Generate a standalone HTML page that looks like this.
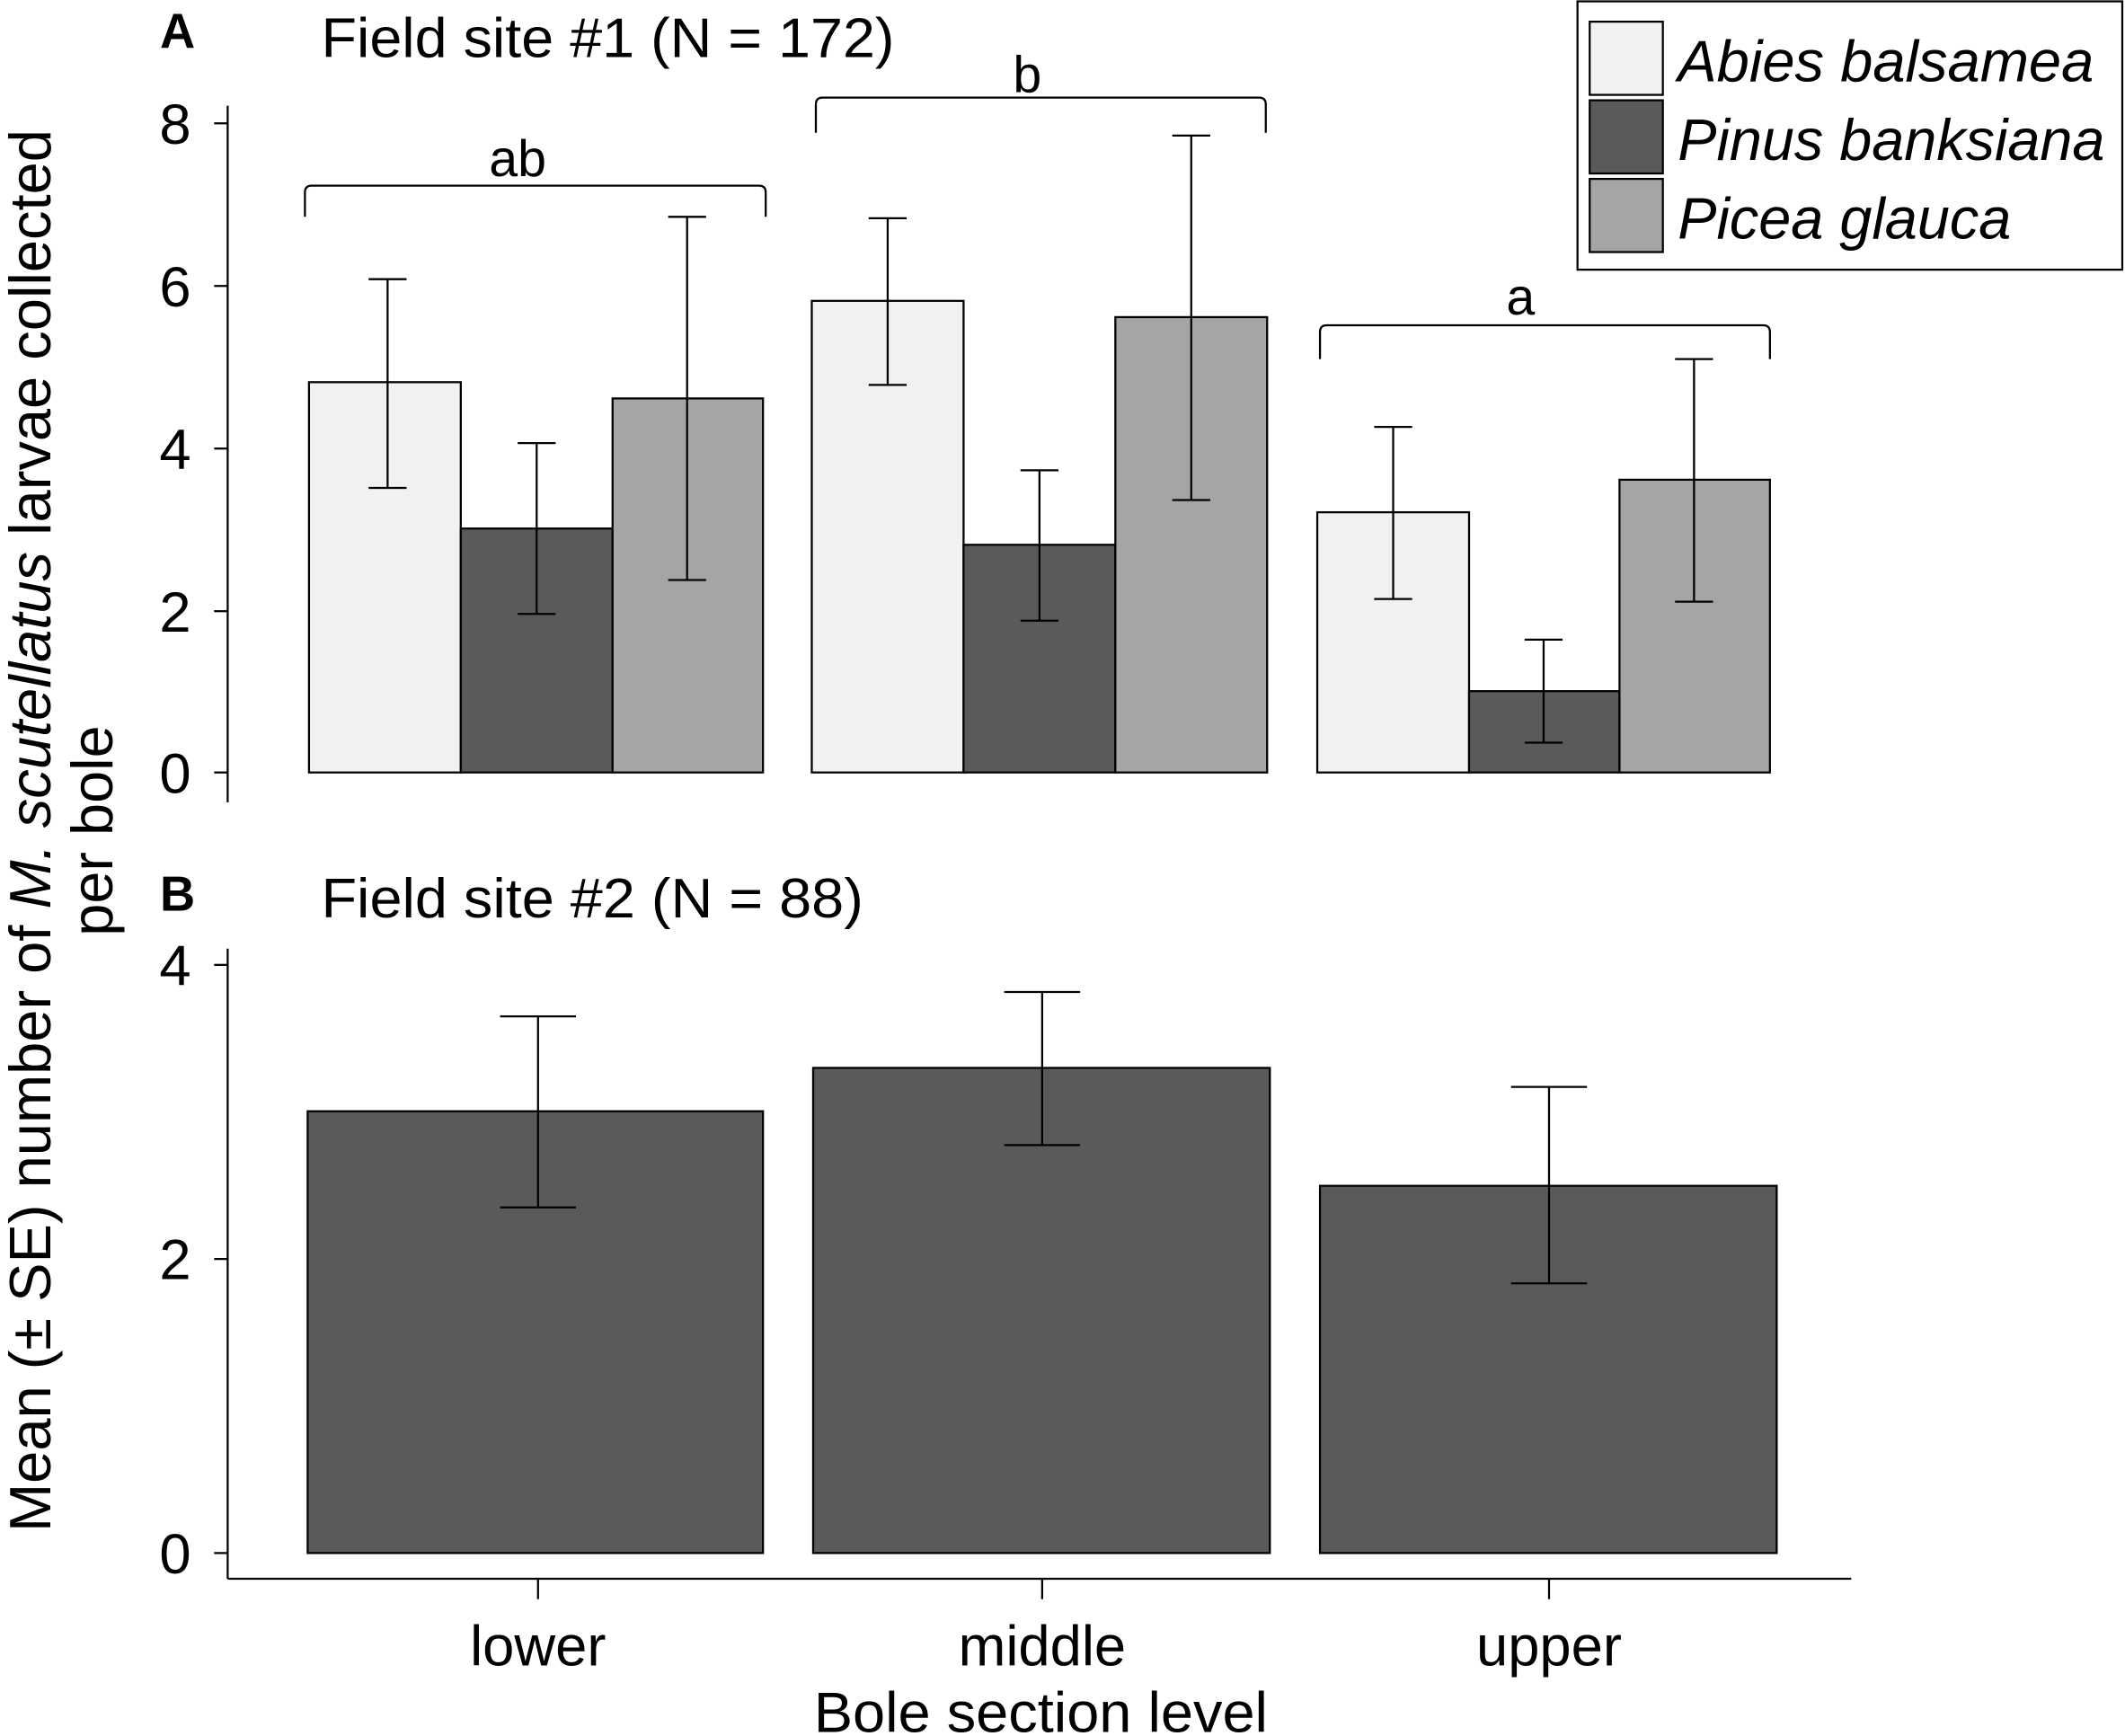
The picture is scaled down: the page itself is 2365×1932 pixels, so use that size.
<!DOCTYPE html>
<html><head><style>html,body{margin:0;padding:0;background:#fff}svg{display:block}</style></head><body>
<svg width="2365" height="1932" viewBox="0 0 1568 1281" preserveAspectRatio="none" xmlns="http://www.w3.org/2000/svg" font-family="Liberation Sans, sans-serif">
<g stroke="#000" stroke-width="1.5">
<line x1="168" y1="78" x2="168" y2="592"/>
<line x1="158" y1="91" x2="168" y2="91"/><line x1="158" y1="211" x2="168" y2="211"/><line x1="158" y1="331" x2="168" y2="331"/><line x1="158" y1="451" x2="168" y2="451"/><line x1="158" y1="570" x2="168" y2="570"/>
<rect x="228" y="282" width="112" height="288" fill="#f1f1f1"/>
<rect x="340" y="390" width="112" height="180" fill="#5a5a5a"/>
<rect x="452" y="294" width="111" height="276" fill="#a5a5a5"/>
<rect x="599" y="222" width="112" height="348" fill="#f1f1f1"/>
<rect x="711" y="402" width="112" height="168" fill="#5a5a5a"/>
<rect x="823" y="234" width="112" height="336" fill="#a5a5a5"/>
<rect x="972" y="378" width="112" height="192" fill="#f1f1f1"/>
<rect x="1084" y="510" width="111" height="60" fill="#5a5a5a"/>
<rect x="1195" y="354" width="111" height="216" fill="#a5a5a5"/>
<path fill="none" d="M286 360V206M272 360H300M272 206H300
M396 453V327M382 453H410M382 327H410
M507 428V160M493 428H521M493 160H521
M655 284V161M641 284H669M641 161H669
M767 458V347M753 458H781M753 347H781
M879 369V100M865 369H893M865 100H893
M1028 442V315M1014 442H1042M1014 315H1042
M1139 548V472M1125 548H1153M1125 472H1153
M1250 444V265M1236 444H1264M1236 265H1264"/>
<path fill="none" d="M225 160V142Q225 137 230 137H560Q565 137 565 142V160
M602 98V77Q602 72 607 72H929Q934 72 934 77V98
M974 265V245Q974 240 979 240H1301Q1306 240 1306 245V265"/>
<line x1="168" y1="700" x2="168" y2="1165"/>
<line x1="168" y1="1165" x2="1366" y2="1165"/>
<line x1="158" y1="712" x2="168" y2="712"/><line x1="158" y1="929" x2="168" y2="929"/><line x1="158" y1="1146" x2="168" y2="1146"/>
<line x1="397" y1="1165" x2="397" y2="1180"/><line x1="769" y1="1165" x2="769" y2="1180"/><line x1="1143" y1="1165" x2="1143" y2="1180"/>
<rect x="227" y="820" width="336" height="326" fill="#5a5a5a"/>
<rect x="600" y="788" width="337" height="358" fill="#5a5a5a"/>
<rect x="974" y="875" width="337" height="271" fill="#5a5a5a"/>
<path fill="none" d="M397 891V750M369 891H425M369 750H425
M769 845V732M741 845H797M741 732H797
M1143 947V802M1115 947H1171M1115 802H1171"/>
<rect x="1164" y="1" width="402" height="198" fill="#fff"/>
<rect x="1173" y="16" width="54" height="54" fill="#f1f1f1"/>
<rect x="1173" y="74" width="54" height="54" fill="#5a5a5a"/>
<rect x="1173" y="132" width="54" height="54" fill="#a5a5a5"/>
</g>
<g font-size="43" fill="#000">
<text x="1238" y="60" font-style="italic" textLength="307" lengthAdjust="spacingAndGlyphs">Abies balsamea</text>
<text x="1238" y="118" font-style="italic" textLength="315" lengthAdjust="spacingAndGlyphs">Pinus banksiana</text>
<text x="1238" y="176" font-style="italic" textLength="246" lengthAdjust="spacingAndGlyphs">Picea glauca</text>
<g text-anchor="end" font-size="42">
<text x="141" y="106">8</text><text x="141" y="226">6</text><text x="141" y="346">4</text><text x="141" y="466">2</text><text x="141" y="585">0</text>
<text x="141" y="727">4</text><text x="141" y="944">2</text><text x="141" y="1161">0</text>
</g>
<g text-anchor="middle" font-size="38">
<text x="382" y="130">ab</text><text x="758" y="68">b</text><text x="1122" y="232">a</text>
</g>
<text x="118" y="35" font-weight="bold" font-size="36">A</text>
<text x="237" y="42" font-size="41" textLength="423" lengthAdjust="spacingAndGlyphs">Field site #1 (N = 172)</text>
<text x="118" y="672" font-weight="bold" font-size="36">B</text>
<text x="237" y="677" font-size="41" textLength="400" lengthAdjust="spacingAndGlyphs">Field site #2 (N = 88)</text>
<g text-anchor="middle" font-size="42">
<text x="397" y="1229">lower</text><text x="769" y="1229">middle</text><text x="1143" y="1229">upper</text>
<text x="768" y="1278" textLength="335" lengthAdjust="spacingAndGlyphs">Bole section level</text>
</g>
<g text-anchor="middle" font-size="43">
<text transform="translate(37,613) rotate(-90)" textLength="1035" lengthAdjust="spacingAndGlyphs">Mean (± SE) number of <tspan font-style="italic">M. scutellatus</tspan> larvae collected</text>
<text transform="translate(83,613) rotate(-90)">per bole</text>
</g>
</g>
</svg>
</body></html>
